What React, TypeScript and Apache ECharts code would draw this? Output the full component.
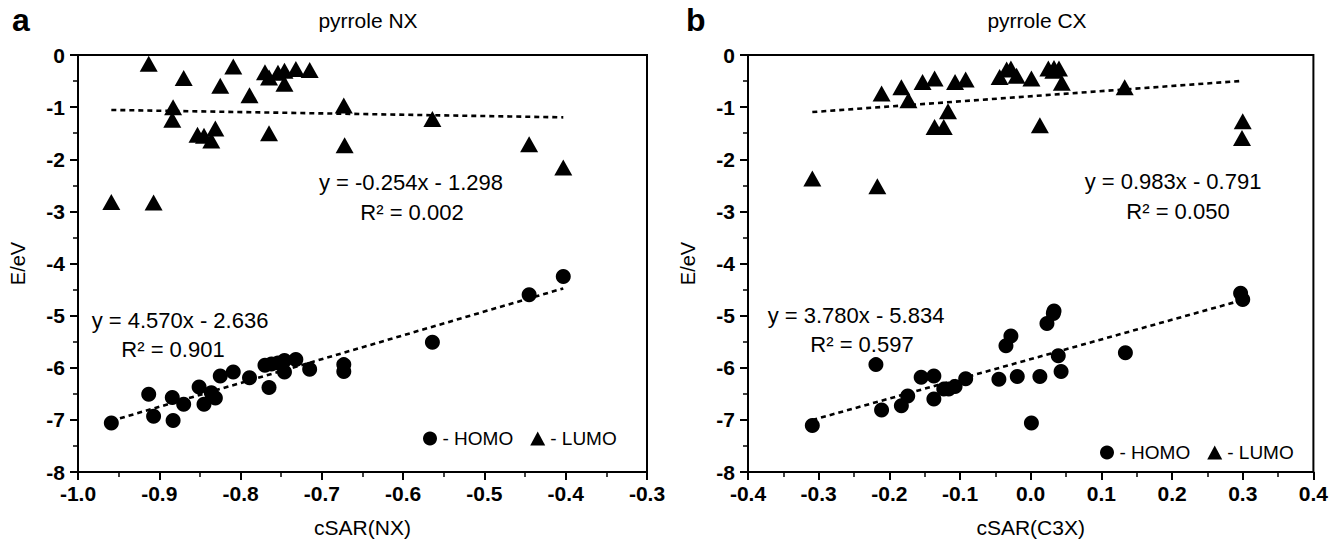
import React, { useEffect, useRef } from "react";
import * as echarts from "echarts";

// ---- data ----
const nxLumoX = [-0.959, -0.913, -0.907, -0.883, -0.884, -0.870, -0.853, -0.845, -0.836, -0.831, -0.825, -0.809, -0.789, -0.770, -0.765, -0.765, -0.754, -0.746, -0.746, -0.732, -0.715, -0.673, -0.672, -0.564, -0.445, -0.403];
const nxLumoY = [-2.82, -0.17, -2.83, -1.00, -1.24, -0.44, -1.53, -1.55, -1.64, -1.41, -0.59, -0.22, -0.77, -0.33, -0.43, -1.50, -0.34, -0.30, -0.55, -0.27, -0.29, -0.97, -1.73, -1.23, -1.71, -2.16];
const nxHomoX = [-0.959, -0.913, -0.907, -0.884, -0.883, -0.870, -0.851, -0.845, -0.836, -0.831, -0.825, -0.809, -0.789, -0.770, -0.765, -0.762, -0.754, -0.746, -0.746, -0.732, -0.715, -0.673, -0.673, -0.564, -0.445, -0.403];
const nxHomoY = [-7.06, -6.51, -6.93, -6.57, -7.01, -6.70, -6.37, -6.70, -6.48, -6.58, -6.16, -6.08, -6.19, -5.95, -6.38, -5.93, -5.91, -5.86, -6.08, -5.84, -6.03, -5.94, -6.07, -5.51, -4.60, -4.25];

const cxLumoX = [-0.309, -0.217, -0.211, -0.183, -0.173, -0.153, -0.136, -0.136, -0.123, -0.117, -0.107, -0.092, -0.044, -0.034, -0.028, -0.020, 0.001, 0.013, 0.025, 0.033, 0.032, 0.040, 0.044, 0.133, 0.300, 0.299];
const cxLumoY = [-2.37, -2.52, -0.74, -0.62, -0.87, -0.52, -0.45, -1.38, -1.38, -1.08, -0.52, -0.47, -0.42, -0.28, -0.26, -0.40, -0.45, -1.35, -0.26, -0.25, -0.30, -0.26, -0.53, -0.62, -1.27, -1.59];
const cxHomoX = [-0.309, -0.219, -0.211, -0.183, -0.174, -0.155, -0.137, -0.137, -0.123, -0.116, -0.107, -0.092, -0.045, -0.035, -0.028, -0.019, 0.001, 0.013, 0.023, 0.032, 0.033, 0.039, 0.043, 0.134, 0.297, 0.300];
const cxHomoY = [-7.11, -5.94, -6.81, -6.73, -6.54, -6.18, -6.16, -6.60, -6.41, -6.41, -6.36, -6.21, -6.22, -5.58, -5.39, -6.17, -7.06, -6.17, -5.15, -4.96, -4.91, -5.77, -6.07, -5.71, -4.57, -4.69];

// trend-line end points (as drawn)
const nxLumoFitX = [-0.959, -0.403];
const nxLumoFitY = [-1.054, -1.196];
const nxHomoFitX = [-0.959, -0.403];
const nxHomoFitY = [-7.019, -4.478];
const cxLumoFitX = [-0.309, 0.300];
const cxLumoFitY = [-1.095, -0.496];
const cxHomoFitX = [-0.309, 0.300];
const cxHomoFitY = [-7.002, -4.700];

const panelTitles = ["pyrrole NX", "pyrrole CX"];
const panelLetters = ["a", "b"];
const xAxisNames = ["cSAR(NX)", "cSAR(C3X)"];
const yAxisName = "E/eV";
const eqTexts = [
  ["y = -0.254x - 1.298", "R² = 0.002"],
  ["y = 4.570x - 2.636", "R² = 0.901"],
  ["y = 0.983x - 0.791", "R² = 0.050"],
  ["y = 3.780x - 5.834", "R² = 0.597"],
];

const zip = (xs: number[], ys: number[]) => xs.map((x, i) => [x, ys[i]]);

const FONT = "'Liberation Sans', Arial, sans-serif";
const TICK_FONT = "'Liberation Sans Narrow', 'Arial Narrow', 'Liberation Sans', Arial, sans-serif";
const TICK_SIZE = 21;

export default function App() {
  const ref = useRef<HTMLDivElement>(null);
  useEffect(() => {
    if (!ref.current) return;
    const chart = echarts.init(ref.current, null, { renderer: "svg" });
    const grids = [
      { left: 78, top: 55, width: 569, height: 424 },
      { left: 748, top: 55, width: 568, height: 425 },
    ];
    const xRanges = [
      [-1.0, -0.3],
      [-0.4, 0.4],
    ];
    const labelStyle = {
      fontFamily: TICK_FONT,
      fontSize: TICK_SIZE,
      fontWeight: "bold",
      color: "#000",
    };
    const mkX = (i: number) => ({
      type: "value",
      gridIndex: i,
      min: xRanges[i][0],
      max: xRanges[i][1],
      interval: 0.1,
      name: xAxisNames[i],
      nameLocation: "middle",
      nameGap: 45,
      nameTextStyle: { fontFamily: FONT, fontSize: 21, color: "#000" },
      axisLine: { show: true, onZero: false, lineStyle: { color: "#000", width: 2 } },
      axisTick: { show: true, length: 8, lineStyle: { color: "#000", width: 2 } },
      minorTick: { show: true, splitNumber: 2, length: 5, lineStyle: { color: "#000", width: 1.5 } },
      axisLabel: {
        show: true,
        margin: 11,
        ...labelStyle,
        formatter: (v: number) => v.toFixed(1),
      },
      splitLine: { show: false },
      minorSplitLine: { show: false },
    });
    const mkY = (i: number) => ({
      type: "value",
      gridIndex: i,
      min: -8,
      max: 0,
      interval: 1,
      name: yAxisName,
      nameLocation: "middle",
      nameGap: 50,
      nameTextStyle: { fontFamily: FONT, fontSize: 20, color: "#000" },
      axisLine: { show: true, onZero: false, lineStyle: { color: "#000", width: 2 } },
      axisTick: { show: true, length: 8, lineStyle: { color: "#000", width: 2 } },
      minorTick: { show: true, splitNumber: 2, length: 5, lineStyle: { color: "#000", width: 1.5 } },
      axisLabel: {
        show: true,
        margin: 13,
        ...labelStyle,
        formatter: (v: number) => String(Math.round(v)),
      },
      splitLine: { show: false },
      minorSplitLine: { show: false },
    });

    const scatter = (name: string, i: number, xs: number[], ys: number[], tri: boolean) => ({
      type: "scatter",
      name,
      xAxisIndex: i,
      yAxisIndex: i,
      data: zip(xs, ys),
      symbol: tri ? "triangle" : "circle",
      symbolSize: tri ? [18, 16] : 15,
      itemStyle: { color: "#000", opacity: 1 },
      z: 3,
    });
    const fit = (name: string, i: number, xs: number[], ys: number[]) => ({
      type: "line",
      name,
      xAxisIndex: i,
      yAxisIndex: i,
      data: zip(xs, ys),
      symbol: "none",
      lineStyle: { color: "#000", width: 2.6, type: [5, 4] },
      z: 2,
      silent: true,
    });

    const eqPos = [
      [[411, 182], [412, 212]],
      [[180, 320], [173, 349]],
      [[1173, 181], [1178, 211]],
      [[856, 315], [862, 344]],
    ];
    const graphic: any[] = [];
    eqTexts.forEach((pair, k) => {
      pair.forEach((t, j) => {
        graphic.push({
          type: "text",
          x: eqPos[k][j][0],
          y: eqPos[k][j][1],
          style: {
            text: t,
            fontFamily: FONT,
            fontSize: 22,
            fill: "#000",
            align: "center",
            verticalAlign: "middle",
          },
        });
      });
    });

    const legendCommon = {
      data: [
        { name: "HOMO", icon: "circle" },
        { name: "LUMO", icon: "triangle" },
      ],
      orient: "horizontal",
      padding: 0,
      itemWidth: 15,
      itemHeight: 14,
      itemGap: 17,
      formatter: "- {name}",
      textStyle: { fontFamily: FONT, fontSize: 19, color: "#000" },
      selectedMode: false,
    };

    chart.setOption({
      animation: false,
      backgroundColor: "#fff",
      textStyle: { fontFamily: FONT },
      title: [
        { text: panelTitles[0], left: 363, top: 5, textAlign: "center", textStyle: { fontFamily: FONT, fontSize: 21, fontWeight: "normal", color: "#000" } },
        { text: panelTitles[1], left: 1032, top: 5, textAlign: "center", textStyle: { fontFamily: FONT, fontSize: 21, fontWeight: "normal", color: "#000" } },
        { text: panelLetters[0], left: 7, top: -1, textStyle: { fontFamily: FONT, fontSize: 32, fontWeight: "bold", color: "#000" } },
        { text: panelLetters[1], left: 681, top: -1, textStyle: { fontFamily: FONT, fontSize: 32, fontWeight: "bold", color: "#000" } },
      ],
      grid: grids.map((g) => ({ ...g, show: true, borderColor: "#000", borderWidth: 2, backgroundColor: "transparent", containLabel: false })),
      xAxis: [mkX(0), mkX(1)],
      yAxis: [mkY(0), mkY(1)],
      legend: [
        { ...legendCommon, left: 423, top: 429 },
        { ...legendCommon, left: 1100, top: 443 },
      ],
      series: [
        scatter("HOMO", 0, nxHomoX, nxHomoY, false),
        scatter("LUMO", 0, nxLumoX, nxLumoY, true),
        fit("HOMO fit NX", 0, nxHomoFitX, nxHomoFitY),
        fit("LUMO fit NX", 0, nxLumoFitX, nxLumoFitY),
        scatter("HOMO", 1, cxHomoX, cxHomoY, false),
        scatter("LUMO", 1, cxLumoX, cxLumoY, true),
        fit("HOMO fit CX", 1, cxHomoFitX, cxHomoFitY),
        fit("LUMO fit CX", 1, cxLumoFitX, cxLumoFitY),
      ],
      graphic,
    });
    return () => chart.dispose();
  }, []);
  return (
    <div
      ref={ref}
      style={{ position: "fixed", left: 0, top: 0, width: 1331, height: 543, background: "#fff" }}
    />
  );
}
